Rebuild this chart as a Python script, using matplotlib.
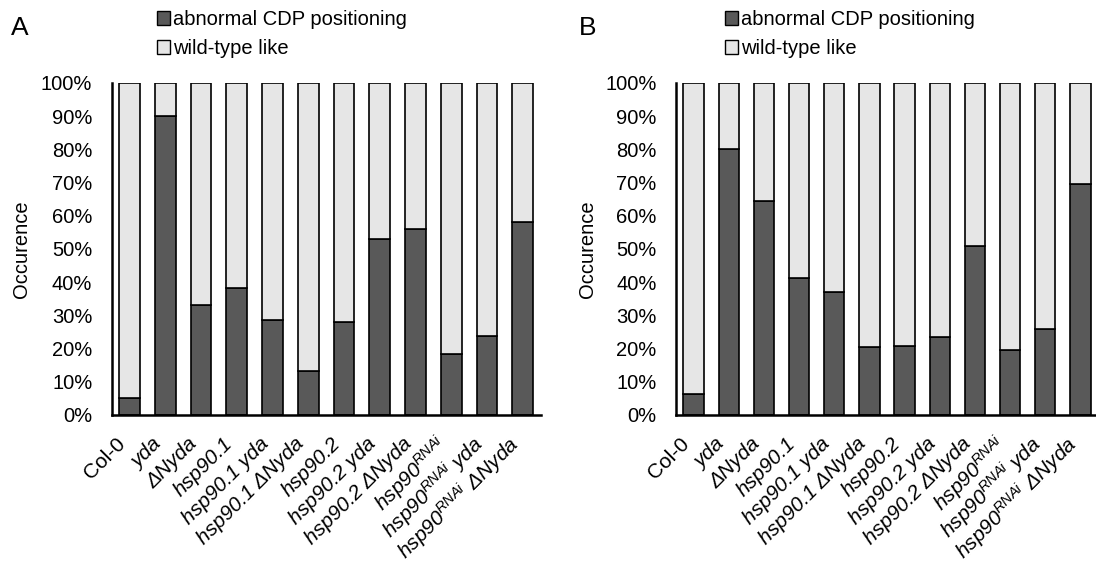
import matplotlib
matplotlib.use("Agg")
import matplotlib.pyplot as plt
import matplotlib.transforms as mtransforms
from matplotlib.patches import Patch
from matplotlib.ticker import PercentFormatter

plt.rcParams['font.family'] = ['Liberation Sans', 'DejaVu Sans']
plt.rcParams['mathtext.fontset'] = 'custom'
plt.rcParams['mathtext.rm'] = 'Liberation Sans'
plt.rcParams['mathtext.it'] = 'Liberation Sans:italic'

labels = ['Col-0', 'yda', 'ΔNyda', 'hsp90.1', 'hsp90.1 yda', 'hsp90.1 ΔNyda',
          'hsp90.2', 'hsp90.2 yda', 'hsp90.2 ΔNyda',
          'hsp90$^{RNAi}$', 'hsp90$^{RNAi}$ yda', 'hsp90$^{RNAi}$ ΔNyda']

# fraction of abnormal CDP positioning (%)
abnormal_a = [5, 90, 33.2, 38.4, 28.7, 13.3, 27.9, 52.9, 56.1, 18.3, 23.9, 58.1]
abnormal_b = [6.4, 80, 64.4, 41.4, 36.9, 20.5, 20.9, 23.5, 50.9, 19.5, 25.9, 69.7]

dark = '#595959'
light = '#e6e6e6'
fs = 14.5

fig = plt.figure(figsize=(10.96, 5.66), dpi=100)
ax1 = fig.add_axes([111.7 / 1096, 1 - 415 / 566, 429 / 1096, 332 / 566])
ax2 = fig.add_axes([676 / 1096, 1 - 415 / 566, 422 / 1096, 332 / 566])

# nudge the rotated labels a bit left/up, like the original
shift = mtransforms.ScaledTranslation(-7 / 100, 3 / 100, fig.dpi_scale_trans)


def draw_panel(ax, abnormal, letter, letter_x, legend_x):
    x = list(range(len(labels)))
    wt = [100 - v for v in abnormal]
    ax.bar(x, abnormal, width=0.58, color=dark, edgecolor='black', linewidth=1.2)
    ax.bar(x, wt, bottom=abnormal, width=0.58, color=light, edgecolor='black', linewidth=1.2)
    ax.set_xlim(-0.5, len(labels) - 0.5)
    ax.set_ylim(0, 100)
    ax.set_yticks(range(0, 101, 10))
    ax.yaxis.set_major_formatter(PercentFormatter(decimals=0))
    ax.tick_params(axis='y', length=0, labelsize=fs, pad=14)
    ax.tick_params(axis='x', length=0, pad=21)
    ax.set_xticks(x)
    ax.set_xticklabels(labels, rotation=45, ha='right', va='center',
                       rotation_mode='anchor', fontsize=15)
    for i, t in enumerate(ax.get_xticklabels()):
        if i > 0:
            t.set_fontstyle('italic')
        t.set_transform(t.get_transform() + shift)
    for s in ['top', 'right']:
        ax.spines[s].set_visible(False)
    for s in ['left', 'bottom']:
        ax.spines[s].set_linewidth(1.8)
    ax.set_ylabel('Occurence', fontsize=fs)
    ax.yaxis.set_label_coords(-0.188, 0.5)
    fig.text(letter_x / 1096, 1 - 35 / 566, letter, fontsize=19)
    handles = [Patch(facecolor=dark, edgecolor='black', label='abnormal CDP positioning'),
               Patch(facecolor=light, edgecolor='black', label='wild-type like')]
    fig.legend(handles=handles, loc='upper left',
               bbox_to_anchor=(legend_x / 1096, 1 - 10 / 566),
               frameon=False, fontsize=fs, handlelength=0.65, handleheight=0.65,
               handletextpad=0.15, labelspacing=0.5, borderpad=0, borderaxespad=0)


draw_panel(ax1, abnormal_a, 'A', 11, 157)
draw_panel(ax2, abnormal_b, 'B', 579, 725)

fig.savefig('out.png', dpi=100)
